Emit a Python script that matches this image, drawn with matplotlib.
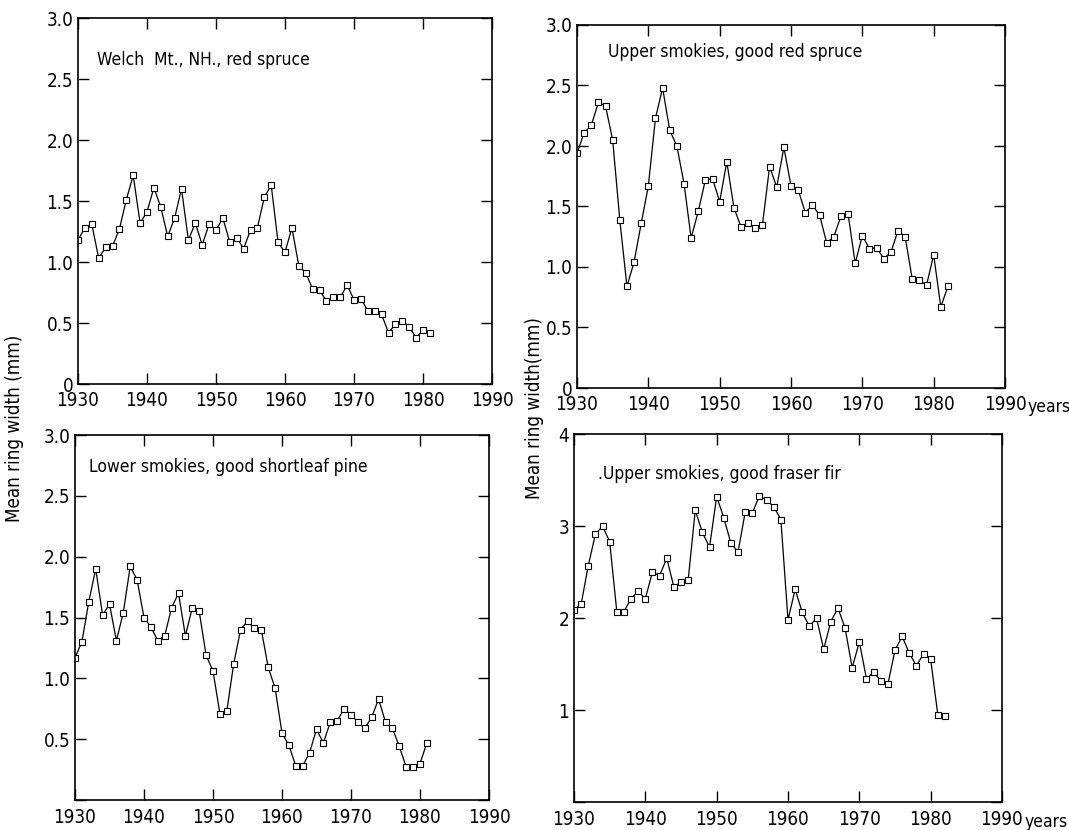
import matplotlib

matplotlib.use("Agg")
import matplotlib.pyplot as plt
from matplotlib import font_manager
from matplotlib.transforms import offset_copy

# narrow face if one is there, the scanned figure uses a condensed sans
_names = {(f.name, f.stretch) for f in font_manager.fontManager.ttflist}
if any(n == "Liberation Sans Narrow" for n, _ in _names):
    plt.rcParams["font.family"] = ["Liberation Sans Narrow", "DejaVu Sans"]
else:
    plt.rcParams["font.family"] = ["DejaVu Sans"]
    plt.rcParams["font.stretch"] = "condensed"

# ring width series
YEARS_52 = list(range(1930, 1982))
YEARS_53 = list(range(1930, 1983))

WELCH_RED_SPRUCE = [
    1.18, 1.28, 1.31, 1.03, 1.12, 1.13, 1.27, 1.51, 1.71, 1.32,
    1.41, 1.61, 1.45, 1.21, 1.36, 1.60, 1.18, 1.32, 1.14, 1.31,
    1.26, 1.36, 1.16, 1.20, 1.11, 1.26, 1.28, 1.53, 1.63, 1.16,
    1.08, 1.28, 0.97, 0.91, 0.78, 0.77, 0.68, 0.71, 0.71, 0.81,
    0.69, 0.70, 0.60, 0.60, 0.57, 0.42, 0.49, 0.52, 0.47, 0.38,
    0.44, 0.42,
]

UPPER_RED_SPRUCE = [
    1.94, 2.11, 2.17, 2.36, 2.33, 2.05, 1.39, 0.84, 1.04, 1.36,
    1.67, 2.23, 2.48, 2.13, 2.00, 1.69, 1.24, 1.46, 1.72, 1.73,
    1.54, 1.87, 1.49, 1.33, 1.36, 1.32, 1.35, 1.83, 1.66, 1.99,
    1.67, 1.64, 1.45, 1.51, 1.43, 1.20, 1.25, 1.42, 1.44, 1.03,
    1.26, 1.15, 1.16, 1.07, 1.12, 1.30, 1.25, 0.90, 0.89, 0.85,
    1.10, 0.67, 0.84,
]

LOWER_SHORTLEAF_PINE = [
    1.17, 1.30, 1.63, 1.90, 1.52, 1.61, 1.31, 1.54, 1.92, 1.81,
    1.50, 1.42, 1.31, 1.35, 1.58, 1.70, 1.35, 1.58, 1.55, 1.19,
    1.06, 0.71, 0.73, 1.12, 1.40, 1.47, 1.41, 1.40, 1.09, 0.92,
    0.55, 0.45, 0.28, 0.28, 0.39, 0.58, 0.47, 0.64, 0.65, 0.75,
    0.70, 0.64, 0.59, 0.68, 0.83, 0.64, 0.59, 0.44, 0.27, 0.27,
    0.30, 0.47,
]

UPPER_FRASER_FIR = [
    2.09, 2.15, 2.57, 2.91, 3.00, 2.83, 2.07, 2.07, 2.21, 2.29,
    2.21, 2.50, 2.46, 2.65, 2.34, 2.39, 2.41, 3.17, 2.93, 2.77,
    3.32, 3.09, 2.81, 2.72, 3.15, 3.14, 3.33, 3.28, 3.21, 3.07,
    1.98, 2.31, 2.06, 1.91, 2.00, 1.66, 1.96, 2.11, 1.89, 1.46,
    1.74, 1.34, 1.41, 1.32, 1.28, 1.65, 1.80, 1.62, 1.48, 1.61,
    1.55, 0.95, 0.93,
]

X_TICKS = [1930, 1940, 1950, 1960, 1970, 1980, 1990]
Y_TICKS_HALF = [0, 0.5, 1.0, 1.5, 2.0, 2.5, 3.0]
Y_LABELS_HALF = ["0", "0.5", "1.0", "1.5", "2.0", "2.5", "3.0"]
Y_LABELS_HALF_NOZERO = ["", "0.5", "1.0", "1.5", "2.0", "2.5", "3.0"]
Y_TICKS_INT = [0, 1, 2, 3, 4]
Y_LABELS_INT = ["", "1", "2", "3", "4"]

W, H = 1069, 830


def px_rect(x0, y0, x1, y1):
    return [x0 / W, 1 - y1 / H, (x1 - x0) / W, (y1 - y0) / H]


def panel(fig, rect, years, values, title, title_xy, yticks, ylabels, ymax, years_label=False, xpad=5):
    ax = fig.add_axes(px_rect(*rect))
    ax.plot(years, values, color="black", lw=0.9, marker="s", ms=4,
            mfc="white", mec="black", mew=0.8)
    ax.set_xlim(1930, 1990)
    ax.set_ylim(0, ymax)
    ax.set_xticks(X_TICKS)
    ax.set_xticklabels([str(t) for t in X_TICKS])
    ax.set_yticks(yticks)
    ax.set_yticklabels(ylabels)
    ax.tick_params(direction="in", length=8, width=1, top=True, right=True, labelsize=13.5)
    ax.tick_params(axis="x", pad=xpad)
    for s in ax.spines.values():
        s.set_linewidth(1.2)
    ax.text(title_xy[0], title_xy[1], title, transform=ax.transAxes, fontsize=12.5, va="center")
    if years_label:
        tr = offset_copy(ax.transAxes, fig=fig, x=16, y=-(xpad + 8.5), units="points")
        ax.text(1.0, 0, "years", transform=tr, fontsize=12.5, ha="left", va="center")
    return ax


def main():
    fig = plt.figure(figsize=(W / 100, H / 100), dpi=100)

    panel(fig, (78, 18, 492, 384), YEARS_52, WELCH_RED_SPRUCE,
          "Welch  Mt., NH., red spruce", (0.046, 0.885), Y_TICKS_HALF, Y_LABELS_HALF, 3.0)
    panel(fig, (577, 25, 1005, 388), YEARS_53, UPPER_RED_SPRUCE,
          "Upper smokies, good red spruce", (0.072, 0.925), Y_TICKS_HALF, Y_LABELS_HALF, 3.0,
          years_label=True)
    panel(fig, (75, 435, 489, 800), YEARS_52, LOWER_SHORTLEAF_PINE,
          "Lower smokies, good shortleaf pine", (0.035, 0.912), Y_TICKS_HALF, Y_LABELS_HALF_NOZERO, 3.0,
          xpad=6)
    panel(fig, (574, 434, 1002, 802), YEARS_53, UPPER_FRASER_FIR,
          ".Upper smokies, good fraser fir", (0.056, 0.89), Y_TICKS_INT, Y_LABELS_INT, 4.0,
          years_label=True, xpad=6)

    fig.text(15 / W, 1 - 428 / H, "Mean ring width (mm)", rotation=90, fontsize=13.5,
             ha="center", va="center")
    fig.text(535 / W, 1 - 408 / H, "Mean ring width(mm)", rotation=90, fontsize=13.5,
             ha="center", va="center")

    fig.savefig("out.png", dpi=100)
    plt.close(fig)


if __name__ == "__main__":
    main()
